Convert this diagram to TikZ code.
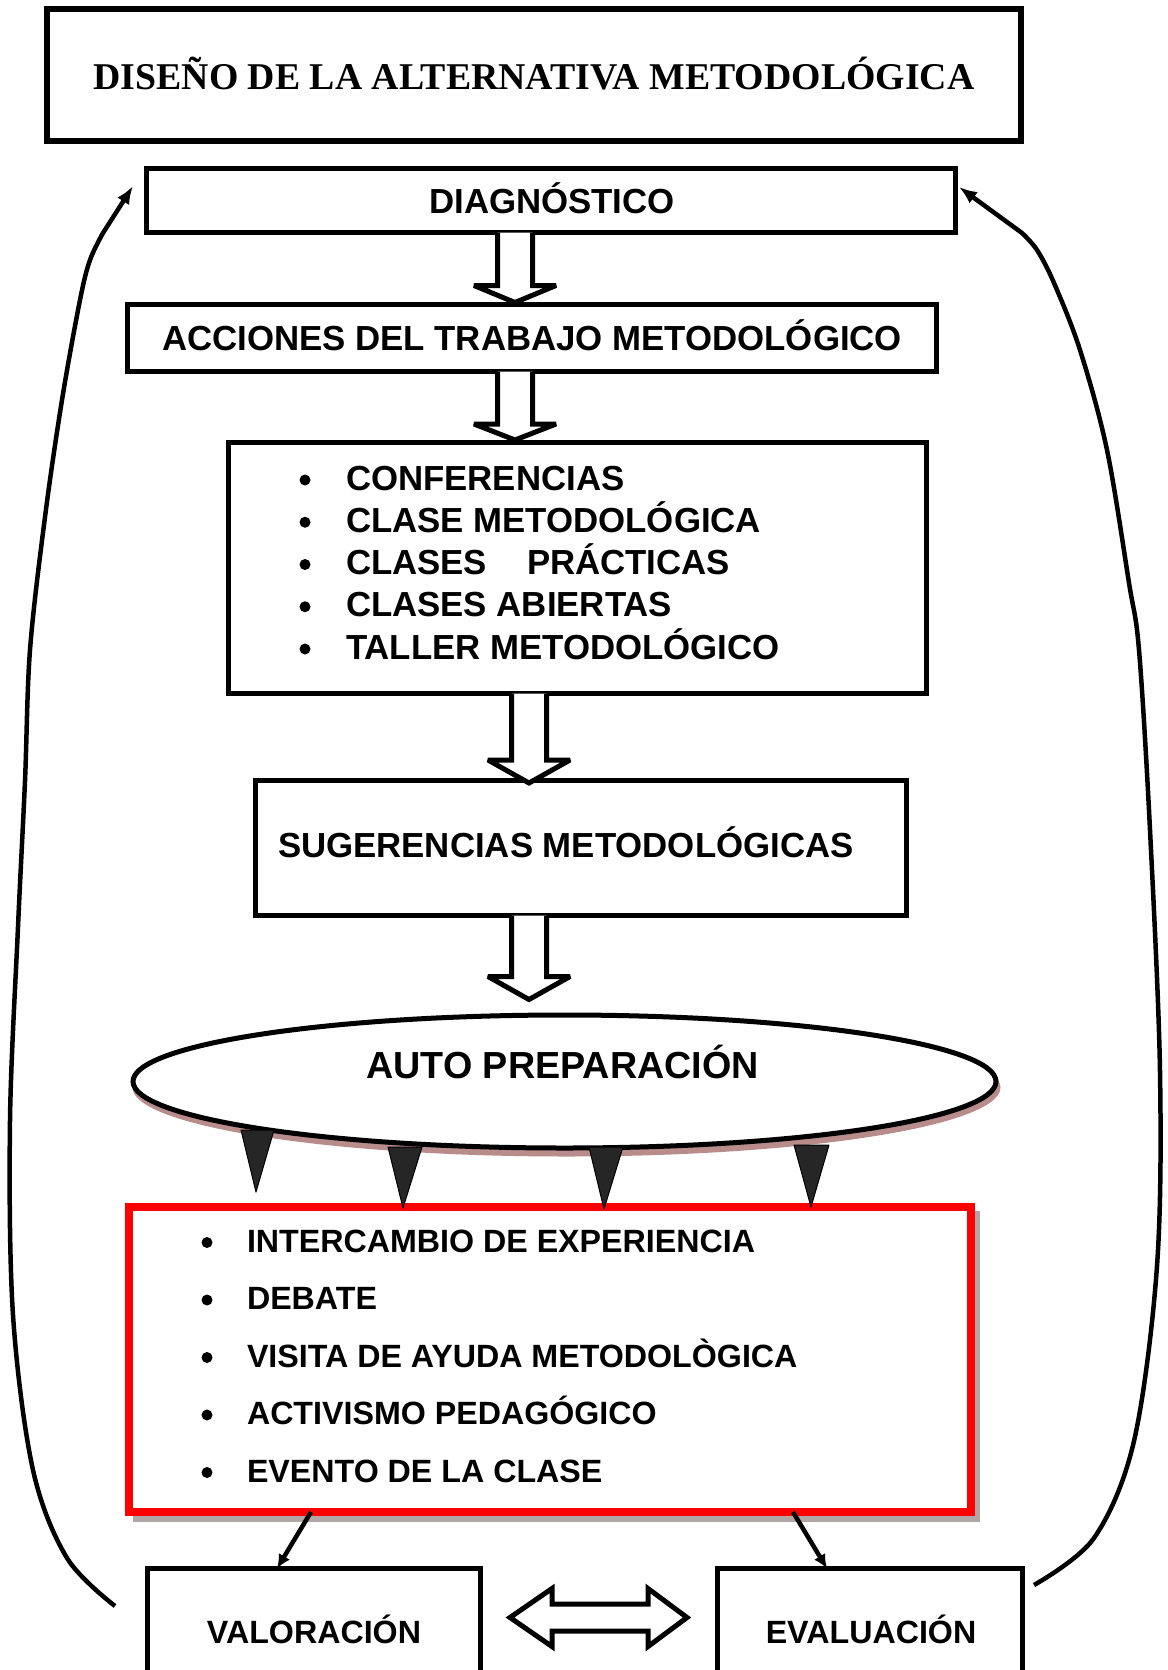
\documentclass[tikz,border=0pt]{standalone}
\usepackage{fontspec}
\setmainfont{Liberation Sans}
\newfontfamily\titlefont{Liberation Serif}
\usetikzlibrary{arrows.meta,calc,shapes.geometric}
\definecolor{wedgegray}{RGB}{38,38,38}
\definecolor{ellshadow}{RGB}{185,140,140}
\definecolor{boxshadow}{RGB}{178,165,165}
% hollow block arrow pointing down: #1 source node, #2 target node,
% #3 x shift from source south, #4 head length, #5 gap above target north
\newcommand\hollowdown[5]{%
  \filldraw[hollow] let \p1=([xshift=#3]#1.south), \p2=(#2.north) in
    (\x1-17.5pt,\y1) -- (\x1-17.5pt,\y2+#5+#4) -- (\x1-41pt,\y2+#5+#4)
    -- (\x1,\y2+#5) -- (\x1+41pt,\y2+#5+#4) -- (\x1+17.5pt,\y2+#5+#4)
    -- (\x1+17.5pt,\y1);}
\begin{document}
\begin{tikzpicture}[x=1pt,y=-1pt,
  box/.style={draw=black,line width=5pt,fill=white,rectangle,inner sep=0pt,outer sep=0pt},
  lbl/.style={inner sep=0pt,outer sep=0pt,font=\bfseries\fontsize{34.8}{40}\selectfont},
  lblsm/.style={inner sep=0pt,outer sep=0pt,font=\bfseries\fontsize{32.2}{38}\selectfont},
  hollow/.style={draw=black,fill=white,line width=5pt,line join=miter,miter limit=2.5},
  backarr/.style={draw=black,line width=4.5pt,-{Latex[length=18pt,width=14pt]}},
  downarr/.style={draw=black,line width=4.5pt,-{Latex[length=14pt,width=13pt]}},
  wedgetri/.style={fill=wedgegray,draw=black,line width=1pt,line join=round}]
\useasboundingbox (0,0) rectangle (1167,1670);
\clip (0,0) rectangle (1167,1670);
\fill[white] (0,0) rectangle (1167,1670);

% title
\node[box,line width=6pt,minimum width=974pt,minimum height=132pt] (title) at (534,75) {};
\node[inner sep=0pt,anchor=base,font=\titlefont\bfseries\fontsize{37.8}{44}\selectfont] (titletext) at (534,89) {DISEÑO DE LA ALTERNATIVA METODOLÓGICA};

% diagnostico
\node[box,minimum width=809pt,minimum height=64pt] (diag) at (551,200.5) {};
\node[lbl,anchor=base] (diagtext) at (552,213) {DIAGNÓSTICO};

% acciones
\node[box,minimum width=809pt,minimum height=67pt] (acc) at (532,338) {};
\node[lbl,anchor=base] (acctext) at (532,350) {ACCIONES DEL TRABAJO METODOLÓGICO};

% list of actions
\node[box,minimum width=698pt,minimum height=251pt] (bul) at (577.5,568) {};
\foreach \t [count=\i from 0] in {CONFERENCIAS, CLASE METODOLÓGICA, {CLASES\hspace{40pt}PRÁCTICAS}, CLASES ABIERTAS, TALLER METODOLÓGICO} {
  \fill (305,490+42.25*\i-10) circle[radius=5.5pt];
  \node[lbl,anchor=base west] (act\i) at (346,490+42.25*\i) {\t};
}

% sugerencias
\node[box,minimum width=651pt,minimum height=135pt] (sug) at (581,848) {};
\node[lbl,anchor=base west] (sugtext) at (278,857) {SUGERENCIAS METODOLÓGICAS};

% auto preparacion
\fill[ellshadow] (566.5,1087.5) ellipse [x radius=434pt, y radius=69pt];
\node[draw=black,fill=white,line width=5pt,ellipse,inner sep=0pt,outer sep=0pt,minimum width=863pt,minimum height=133pt] (auto) at (564.5,1081.5) {};
\node[inner sep=0pt,anchor=base,font=\bfseries\fontsize{37.7}{44}\selectfont] (autotext) at (562.5,1078) {AUTO PREPARACIÓN};

% hollow arrows
\hollowdown{diag}{acc}{-36pt}{17pt}{2pt}
\hollowdown{acc}{bul}{-17pt}{16pt}{2.5pt}
\hollowdown{bul}{sug}{-48.5pt}{23pt}{0pt-2.5pt}
\hollowdown{sug}{auto}{-52pt}{23pt}{15.5pt}

% red box
\fill[boxshadow] (133,1211) rectangle (980,1522);
\node[box,draw=red,line width=8pt,minimum width=842pt,minimum height=305pt] (red) at (550,1359.5) {};
\foreach \t [count=\i from 0] in {INTERCAMBIO DE EXPERIENCIA, DEBATE, VISITA DE AYUDA METODOLÒGICA, ACTIVISMO PEDAGÓGICO, EVENTO DE LA CLASE} {
  \fill (207,1252+57.5*\i-9.5) circle[radius=5.5pt];
  \node[lblsm,anchor=base west] (ev\i) at (247,1252+57.5*\i) {\t};
}

% wedges
\filldraw[wedgetri] (241,1130) -- (274,1130) -- (256,1192) -- cycle;
\filldraw[wedgetri] (388,1147) -- (422,1147) -- (403,1208) -- cycle;
\filldraw[wedgetri] (589,1147) -- (623,1147) -- (604,1209) -- cycle;
\filldraw[wedgetri] (794,1145) -- (829,1145) -- (811,1207) -- cycle;

% bottom boxes
\node[box,minimum width=333pt,minimum height=131.5pt] (valor) at (314,1634.25) {};
\node[lblsm,anchor=base] (valortext) at (314,1643) {VALORACIÓN};
\node[box,minimum width=305pt,minimum height=131.5pt] (eval) at (870,1634.25) {};
\node[lblsm,anchor=base] (evaltext) at (871,1643) {EVALUACIÓN};

% arrows from red box
\draw[downarr] ([xshift=-239pt]red.south) -- ([xshift=-37pt]valor.north);
\draw[downarr] ([xshift=243pt]red.south) -- ([xshift=-43pt]eval.north);

% double hollow arrow
\coordinate (dl) at ($(valor.north east)+(29.5,49)$);
\coordinate (dr) at ($(eval.north west)+(-30.5,49)$);
\filldraw[hollow] (dl) -- ++(42,-29) -- ++(0,15.5) -- ++(96,0) -- ++(0,-15.5)
  -- (dr) -- ++(-39,29) -- ++(0,-15.5) -- ++(-96,0) -- ++(0,15.5) -- cycle;

% feedback curves
\coordinate (Ls) at ($(valor.north west)+(-32.5,37.5)$);
\coordinate (Lt) at ($(diag.west)+(-13.5,-14.5)$);
\draw[backarr] plot[smooth,tension=0.55] coordinates {(Ls) (67,1558) (33,1470) (13,1315) (10,1121) (18,927) (25,781) (30,650) (45,517) (62,400) (80,300) (90,260) (103,233)} -- (Lt);
\coordinate (Rs) at ($(eval.north east)+(11.5,16.5)$);
\coordinate (Rt) at ($(diag.east)+(3.5,-13.5)$);
\draw[backarr] plot[smooth,tension=0.55] coordinates {(Rs) (1094,1538) (1134,1441) (1157,1266) (1160,1072) (1150,830) (1139,650) (1129,583) (1107,450) (1080,350) (1054,283) (1037,250) (1022,233)} -- (Rt);
\end{tikzpicture}
\end{document}
